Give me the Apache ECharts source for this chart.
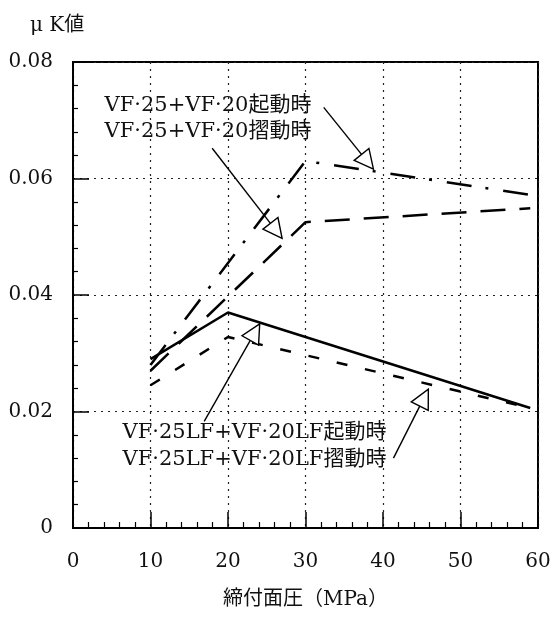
<!DOCTYPE html>
<html><head><meta charset="utf-8">
<script src="https://cdn.jsdelivr.net/npm/echarts@6/dist/echarts.min.js"></script>
<style>html,body{margin:0;padding:0;background:#fff}#c{width:554px;height:617px}</style>
</head><body><div id="c"></div>
<script>
// ---- data ----
const seriesNames = ['VF·25+VF·20起動時', 'VF·25+VF·20摺動時', 'VF·25LF+VF·20LF起動時', 'VF·25LF+VF·20LF摺動時'];
const pressureA = [10, 30, 59];
const muKA = [0.028, 0.063, 0.0572];
const pressureB = [10, 30, 59];
const muKB = [0.027, 0.0525, 0.0549];
const pressureC = [10, 20, 59];
const muKC = [0.029, 0.037, 0.0206];
const pressureD = [10, 20, 59];
const muKD = [0.0245, 0.0328, 0.0206];
const xTickLabels = ['0', '10', '20', '30', '40', '50', '60'];
const yTickLabels = ['0', '0.02', '0.04', '0.06', '0.08'];
const xAxisTitle = '締付面圧（MPa）';
const yAxisTitle = 'μ K値';

// annotation geometry in data coordinates
const arrowFrom = [[32.35, 0.0722], [17.96, 0.0652], [16.93, 0.0183], [41.35, 0.0120]];
const arrowTip = [[38.77, 0.0616], [26.98, 0.04972], [24.09, 0.03503], [45.85, 0.02383]];
const noteAt = [[4.07, 0.0726], [4.07, 0.0680], [6.39, 0.01634], [6.39, 0.01171]];

const serif = '"DejaVu Serif", "Noto Sans CJK JP", serif';
const pair = (xs, ys) => xs.map((x, i) => [x, ys[i]]);

const chart = echarts.init(document.getElementById('c'));
const lineBase = { type: 'line', symbol: 'none', silent: true, animation: false, z: 3 };
chart.setOption({
  animation: false,
  backgroundColor: '#fff',
  title: { text: yAxisTitle, left: 25, top: 11, textStyle: { fontFamily: serif, fontSize: 20, fontWeight: 'normal', color: '#111' } },
  grid: { left: 73, right: 16, top: 62, bottom: 89, show: true, borderColor: '#000', borderWidth: 2, backgroundColor: 'transparent' },
  xAxis: {
    type: 'value', min: 0, max: 60, interval: 10,
    name: xAxisTitle, nameLocation: 'middle', nameGap: 62,
    nameTextStyle: { fontFamily: serif, fontSize: 20, color: '#111' },
    axisLine: { show: true, lineStyle: { color: '#000', width: 2 } },
    axisTick: { show: true, inside: true, length: 16, lineStyle: { color: '#000', width: 1.5 } },
    minorTick: { show: true, splitNumber: 5, length: 6, lineStyle: { color: '#000', width: 1.2 } },
    axisLabel: { margin: 24, fontFamily: serif, fontSize: 20, color: '#111', formatter: (v) => xTickLabels[Math.round(v / 10)] },
    splitLine: { show: true, lineStyle: { color: '#222', width: 1.2, type: [2, 5] } }
  },
  yAxis: {
    type: 'value', min: 0, max: 0.08, interval: 0.02,
    axisLine: { show: true, lineStyle: { color: '#000', width: 2 } },
    axisTick: { show: true, inside: true, length: 16, lineStyle: { color: '#000', width: 1.5 } },
    minorTick: { show: true, splitNumber: 5, length: 5, lineStyle: { color: '#000', width: 1.2 } },
    axisLabel: { margin: 20, fontFamily: serif, fontSize: 20, color: '#111', formatter: (v) => yTickLabels[Math.round(v / 0.02)] },
    splitLine: { show: true, lineStyle: { color: '#222', width: 1.2, type: [2, 5] } }
  },
  series: [
    Object.assign({}, lineBase, { name: seriesNames[0], data: pair(pressureA, muKA), lineStyle: { color: '#000', width: 2.5, type: [25, 14, 3, 15] } }),
    Object.assign({}, lineBase, { name: seriesNames[1], data: pair(pressureB, muKB), lineStyle: { color: '#000', width: 2.5, type: [25, 14] } }),
    Object.assign({}, lineBase, { name: seriesNames[2], data: pair(pressureC, muKC), lineStyle: { color: '#000', width: 2.5, type: 'solid' } }),
    Object.assign({}, lineBase, { name: seriesNames[3], data: pair(pressureD, muKD), lineStyle: { color: '#000', width: 2.5, type: [11, 18] } })
  ]
});

const graphics = [];
const HEAD_LEN = 19, HEAD_W = 19;
arrowFrom.forEach((f, i) => {
  const a = chart.convertToPixel({ gridIndex: 0 }, f);
  const t = chart.convertToPixel({ gridIndex: 0 }, arrowTip[i]);
  const dx = t[0] - a[0], dy = t[1] - a[1];
  const n = Math.hypot(dx, dy), ux = dx / n, uy = dy / n;
  const bx = t[0] - ux * HEAD_LEN, by = t[1] - uy * HEAD_LEN;
  const px = -uy * HEAD_W / 2, py = ux * HEAD_W / 2;
  graphics.push({ type: 'line', silent: true, z: 10, shape: { x1: a[0], y1: a[1], x2: bx, y2: by }, style: { stroke: '#000', lineWidth: 1.4 } });
  graphics.push({ type: 'polygon', silent: true, z: 11, shape: { points: [[t[0], t[1]], [bx + px, by + py], [bx - px, by - py]] }, style: { fill: '#fff', stroke: '#000', lineWidth: 1.4 } });
});
noteAt.forEach((p, i) => {
  const px = chart.convertToPixel({ gridIndex: 0 }, p);
  graphics.push({ type: 'text', x: px[0], y: px[1], silent: true, z: 12,
    style: { text: seriesNames[i], font: '21px ' + serif, fill: '#111', verticalAlign: 'middle', align: 'left' } });
});
chart.setOption({ graphic: graphics });
</script></body></html>
